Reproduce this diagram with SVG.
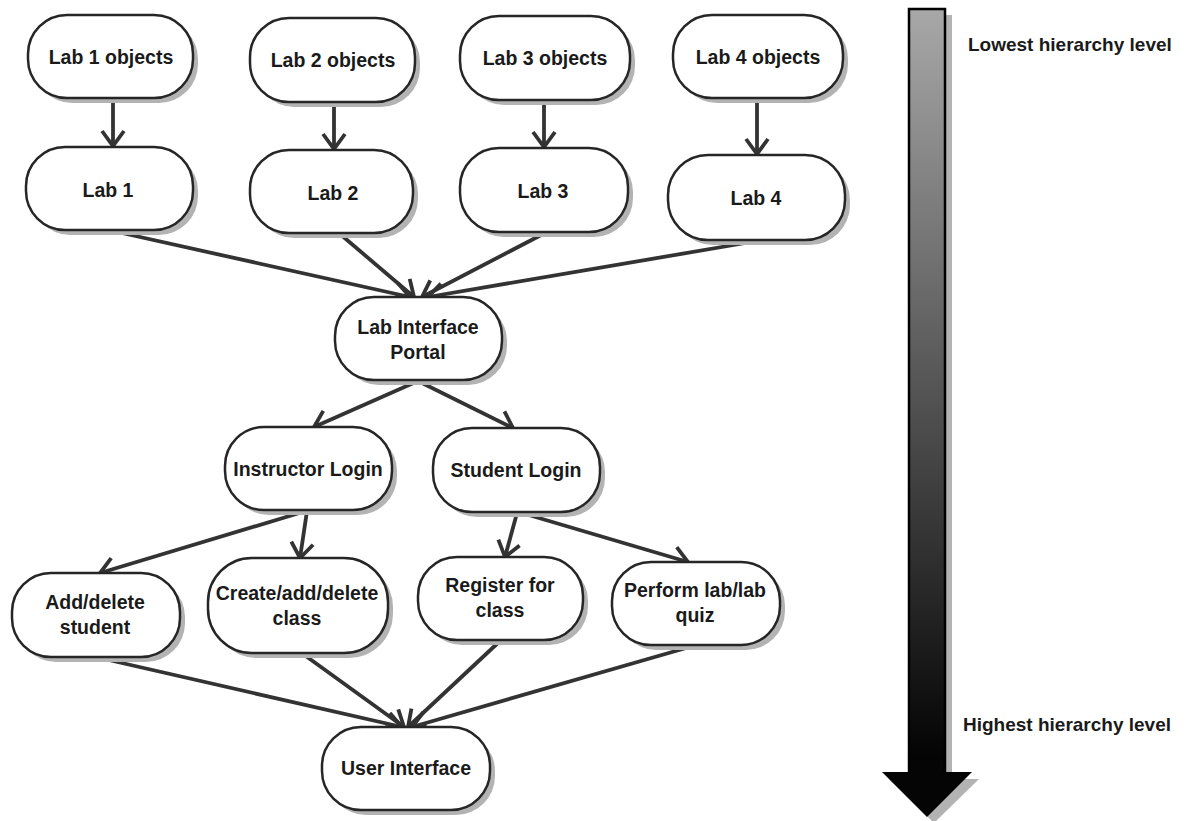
<svg xmlns="http://www.w3.org/2000/svg" width="1191" height="821" viewBox="0 0 1191 821">
  <style>
    .shadow { fill: #b3b3b3; }
    .node { fill: #ffffff; stroke: #262626; stroke-width: 2.5; }
    .label { font-family: "Liberation Sans", Arial, sans-serif; font-weight: bold; font-size: 19.5px; fill: #1a1a1a; text-anchor: middle; }
    .side { font-family: "Liberation Sans", Arial, sans-serif; font-weight: bold; font-size: 19px; fill: #1a1a1a; }
    .edge { fill: none; stroke: #333333; stroke-width: 3.8; marker-end: url(#open); }
  </style>
  <defs>
    <marker id="open" viewBox="-19 -14 24 28" refX="0" refY="0" markerWidth="24" markerHeight="28" markerUnits="userSpaceOnUse" orient="auto">
      <path d="M -15 -11 L 0 0 L -15 11" fill="none" stroke="#333333" stroke-width="3.8" stroke-linejoin="miter"/>
    </marker>
    <linearGradient id="levelGrad" x1="0" y1="0" x2="0" y2="1">
      <stop offset="0" stop-color="#a8a8a8"/>
      <stop offset="1" stop-color="#000000"/>
    </linearGradient>
  </defs>

  <rect width="1191" height="821" fill="#ffffff"/>

  <!-- hierarchy scale arrow -->
  <g id="hierarchy-arrow">
    <rect class="shadow" x="915" y="15" width="37" height="764"/>
    <polygon class="shadow" points="889,779 979,779 934,823"/>
    <rect x="909" y="9" width="36" height="764" fill="url(#levelGrad)" stroke="#000000" stroke-width="2.5"/>
    <polygon points="882,772 972,772 927,817" fill="#050505"/>
    <rect x="910.5" y="760" width="33" height="14" fill="#050505"/>
    <text class="side" x="968" y="51">Lowest hierarchy level</text>
    <text class="side" x="963" y="731">Highest hierarchy level</text>
  </g>

  <!-- connectors -->
  <g id="connectors">
    <line class="edge" x1="113" y1="99" x2="113" y2="146"/>
    <line class="edge" x1="334" y1="103" x2="334" y2="149"/>
    <line class="edge" x1="544" y1="101" x2="544" y2="147"/>
    <line class="edge" x1="757" y1="99" x2="757" y2="154"/>
    <line class="edge" x1="113" y1="231" x2="410" y2="297"/>
    <line class="edge" x1="340" y1="234" x2="414" y2="297"/>
    <line class="edge" x1="545" y1="233" x2="422" y2="297"/>
    <line class="edge" x1="757" y1="241" x2="428" y2="297"/>
    <line class="edge" x1="418" y1="381" x2="314" y2="427"/>
    <line class="edge" x1="418" y1="381" x2="513" y2="428"/>
    <line class="edge" x1="306" y1="511" x2="100" y2="573"/>
    <line class="edge" x1="307" y1="511" x2="300" y2="558"/>
    <line class="edge" x1="517" y1="513" x2="505" y2="557"/>
    <line class="edge" x1="522" y1="513" x2="688" y2="562"/>
    <line class="edge" x1="100" y1="658" x2="402" y2="727"/>
    <line class="edge" x1="303" y1="654" x2="404" y2="727"/>
    <line class="edge" x1="500" y1="641" x2="408" y2="727"/>
    <line class="edge" x1="693" y1="646" x2="412" y2="727"/>
  </g>

  <!-- nodes -->
  <g id="lab1-objects">
    <rect class="shadow" x="33" y="20" width="165" height="83" rx="39"/>
    <rect class="node" x="28" y="15" width="165" height="83" rx="39"/>
    <text class="label" x="111" y="64">Lab 1 objects</text>
  </g>
  <g id="lab2-objects">
    <rect class="shadow" x="255" y="23" width="165" height="84" rx="39"/>
    <rect class="node" x="250" y="18" width="165" height="84" rx="39"/>
    <text class="label" x="333" y="67">Lab 2 objects</text>
  </g>
  <g id="lab3-objects">
    <rect class="shadow" x="465" y="21" width="170" height="84" rx="39"/>
    <rect class="node" x="460" y="16" width="170" height="84" rx="39"/>
    <text class="label" x="545" y="65">Lab 3 objects</text>
  </g>
  <g id="lab4-objects">
    <rect class="shadow" x="678" y="20" width="170" height="83" rx="39"/>
    <rect class="node" x="673" y="15" width="170" height="83" rx="39"/>
    <text class="label" x="758" y="64">Lab 4 objects</text>
  </g>
  <g id="lab1">
    <rect class="shadow" x="31" y="152" width="167" height="83" rx="39"/>
    <rect class="node" x="26" y="147" width="167" height="83" rx="39"/>
    <text class="label" x="108" y="197">Lab 1</text>
  </g>
  <g id="lab2">
    <rect class="shadow" x="255" y="155" width="163" height="83" rx="39"/>
    <rect class="node" x="250" y="150" width="163" height="83" rx="39"/>
    <text class="label" x="333" y="200">Lab 2</text>
  </g>
  <g id="lab3">
    <rect class="shadow" x="465" y="153" width="168" height="84" rx="39"/>
    <rect class="node" x="460" y="148" width="168" height="84" rx="39"/>
    <text class="label" x="543" y="198">Lab 3</text>
  </g>
  <g id="lab4">
    <rect class="shadow" x="673" y="160" width="177" height="85" rx="40"/>
    <rect class="node" x="668" y="155" width="177" height="85" rx="40"/>
    <text class="label" x="756" y="205">Lab 4</text>
  </g>
  <g id="lab-interface-portal">
    <rect class="shadow" x="340" y="302" width="167" height="83" rx="39"/>
    <rect class="node" x="335" y="297" width="167" height="83" rx="39"/>
    <text class="label" x="418" y="334">Lab Interface</text>
    <text class="label" x="418" y="359">Portal</text>
  </g>
  <g id="instructor-login">
    <rect class="shadow" x="230" y="432" width="167" height="83" rx="39"/>
    <rect class="node" x="225" y="427" width="167" height="83" rx="39"/>
    <text class="label" x="308" y="476">Instructor Login</text>
  </g>
  <g id="student-login">
    <rect class="shadow" x="438" y="433" width="167" height="84" rx="39"/>
    <rect class="node" x="433" y="428" width="167" height="84" rx="39"/>
    <text class="label" x="516" y="477">Student Login</text>
  </g>
  <g id="add-delete-student">
    <rect class="shadow" x="17" y="578" width="168" height="84" rx="39"/>
    <rect class="node" x="12" y="573" width="168" height="84" rx="39"/>
    <text class="label" x="95" y="609">Add/delete</text>
    <text class="label" x="95" y="634">student</text>
  </g>
  <g id="create-add-delete-class">
    <rect class="shadow" x="213" y="563" width="180" height="95" rx="44"/>
    <rect class="node" x="208" y="558" width="180" height="95" rx="44"/>
    <text class="label" x="297" y="600">Create/add/delete</text>
    <text class="label" x="297" y="625">class</text>
  </g>
  <g id="register-for-class">
    <rect class="shadow" x="423" y="562" width="165" height="83" rx="39"/>
    <rect class="node" x="418" y="557" width="165" height="83" rx="39"/>
    <text class="label" x="500" y="592">Register for</text>
    <text class="label" x="500" y="617">class</text>
  </g>
  <g id="perform-lab-quiz">
    <rect class="shadow" x="617" y="567" width="168" height="83" rx="39"/>
    <rect class="node" x="612" y="562" width="168" height="83" rx="39"/>
    <text class="label" x="695" y="597">Perform lab/lab</text>
    <text class="label" x="695" y="622">quiz</text>
  </g>
  <g id="user-interface">
    <rect class="shadow" x="327" y="732" width="168" height="83" rx="39"/>
    <rect class="node" x="322" y="727" width="168" height="83" rx="39"/>
    <text class="label" x="406" y="775">User Interface</text>
  </g>
</svg>
